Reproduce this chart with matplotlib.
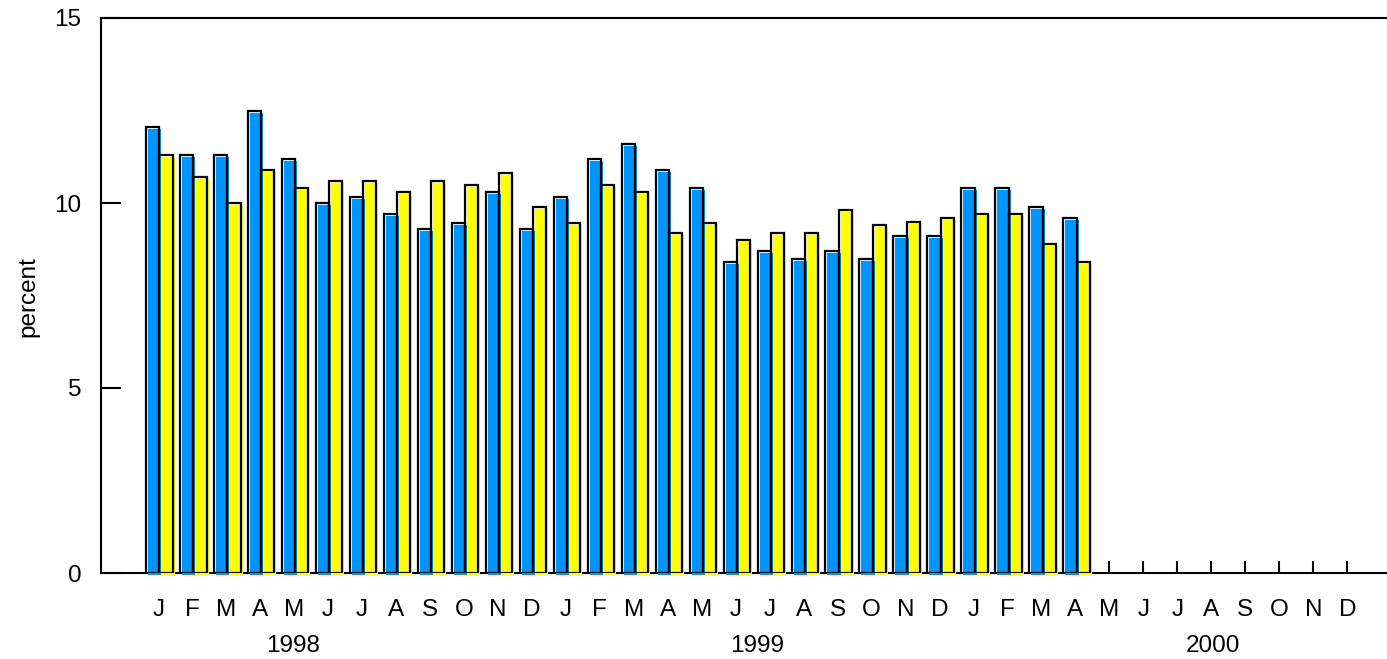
import matplotlib
matplotlib.use("Agg")
import matplotlib.pyplot as plt
import numpy as np
from matplotlib.transforms import ScaledTranslation

plt.rcParams['font.family'] = ['Liberation Sans', 'DejaVu Sans']

months = ["J", "F", "M", "A", "M", "J", "J", "A", "S", "O", "N", "D"] * 3
years = ["1998", "1999", "2000"]
blue_vals = [12.05, 11.3, 11.3, 12.5, 11.2, 10.0, 10.15, 9.7, 9.3, 9.45, 10.3, 9.3,
             10.15, 11.2, 11.6, 10.9, 10.4, 8.4, 8.7, 8.5, 8.7, 8.5, 9.1, 9.1,
             10.4, 10.4, 9.9, 9.6]
yellow_vals = [11.3, 10.7, 10.0, 10.9, 10.4, 10.6, 10.6, 10.3, 10.6, 10.5, 10.8, 9.9,
               9.45, 10.5, 10.3, 9.2, 9.45, 9.0, 9.2, 9.2, 9.8, 9.4, 9.5, 9.6,
               9.7, 9.7, 8.9, 8.4]

BLUE = "#0094FF"
YELLOW = "#FFFF00"
FS = 17.5

fig = plt.figure(figsize=(13.87, 6.59), dpi=100)
ax = fig.add_axes([101/1387, 86/659, 1285/1387, 555/659])

n = len(blue_vals)
x = np.arange(n)
w = 0.39
shift = 0.03
off = ScaledTranslation(2/100, -2/100, fig.dpi_scale_trans)

fb = ax.bar(x + shift - w/2, blue_vals, width=w, color=BLUE, linewidth=0, zorder=3)
fy = ax.bar(x + shift + w/2, yellow_vals, width=w, color=YELLOW, linewidth=0, zorder=3)
for p in list(fb) + list(fy):
    p.set_transform(ax.transData + off)
    p.set_clip_on(False)
ax.bar(x + shift - w/2, blue_vals, width=w, fill=False, edgecolor='black', linewidth=1.6, zorder=4)
ax.bar(x + shift + w/2, yellow_vals, width=w, fill=False, edgecolor='black', linewidth=1.6, zorder=4)

ax.set_xlim(-1.687, 36.14)
ax.set_ylim(0, 15)
ax.set_yticks([0, 5, 10, 15])
ax.set_xticks(np.arange(36))
ax.set_xticklabels(months)

ax.spines['right'].set_visible(False)
for s in ['left', 'top', 'bottom']:
    ax.spines[s].set_linewidth(1.5)

ax.tick_params(axis='y', direction='in', length=14.4, width=1.5, pad=14, labelsize=FS)
ax.tick_params(axis='x', direction='in', length=8.6, width=1.5, pad=19, labelsize=FS)

year_pos = [3.97, 17.64, 31.04]
for xp, yl in zip(year_pos, years):
    ax.text(xp, -0.131, yl, transform=ax.get_xaxis_transform(), ha='center', va='center', fontsize=FS)

fig.text(28/1387, 1 - 297/659, "percent", rotation=90, ha='center', va='center', fontsize=FS)

fig.savefig("out.png", dpi=100)
